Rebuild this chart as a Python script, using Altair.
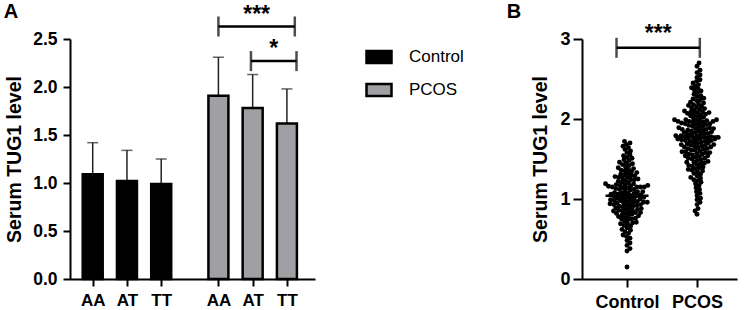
import json

import altair as alt
import numpy as np
import pandas as pd

FONT = "Liberation Sans"
PCOS_GREY = "#a0a0a4"

# ---------------- Panel A: serum TUG1 by genotype (mean + SD) ----------------
groups_a = ["Control", "PCOS"]
genotypes = ["AA", "AT", "TT"]
means_control = [1.09, 1.02, 0.99]
upper_control = [1.42, 1.34, 1.25]
means_pcos = [1.91, 1.78, 1.62]
upper_pcos = [2.31, 2.13, 1.98]

GROUP_GAP = 3.67  # slot distance between the first bars of the two groups

rows = []
for gi, (g, m_list, u_list) in enumerate(
    [("Control", means_control, upper_control), ("PCOS", means_pcos, upper_pcos)]
):
    for j, geno in enumerate(genotypes):
        rows.append({"group": g, "genotype": geno, "slot": gi * GROUP_GAP + j,
                     "mean": m_list[j], "upper": u_list[j]})
bars_df = pd.DataFrame(rows)

# significance brackets between PCOS genotypes
bracket_from = [0, 0.95]       # AA, AT (slot within PCOS group)
bracket_to = [2.23, 2.28]      # TT end (bracket reaches the bar's right side)
bracket_level = [2.63, 2.27]
bracket_text = ["***", "*"]
brackets_df = pd.DataFrame({
    "x1": [GROUP_GAP + v for v in bracket_from],
    "x2": [GROUP_GAP + v for v in bracket_to],
    "y": bracket_level,
    "label": bracket_text,
})

x_a = alt.Scale(domain=[-0.663, 6.49], nice=False, zero=False, padding=0)
y_a = alt.Scale(domain=[0, 2.5], nice=False)

label_expr_a = (
    f"datum.value < {GROUP_GAP - 0.5} ? {json.dumps(genotypes)}[round(datum.value)]"
    f" : {json.dumps(genotypes)}[round(datum.value - {GROUP_GAP})]"
)

xa_axis = alt.Axis(values=list(bars_df["slot"]), labelExpr=label_expr_a, title=None,
                   labelFontSize=17, labelFontWeight="bold", tickSize=7,
                   labelPadding=6, labelFlush=False)
ya_axis = alt.Axis(values=[0, 0.5, 1.0, 1.5, 2.0, 2.5], format=".1f",
                   title="Serum TUG1 level", titleFontSize=19.5, titleFontWeight="bold",
                   labelFontSize=17.5, labelFontWeight="bold", tickSize=7,
                   labelPadding=6, titleX=-56, titleBaseline="middle")

base_a = alt.Chart(bars_df)

err_rule = base_a.mark_rule(strokeWidth=1.5, color="#222222").encode(
    x=alt.X("slot:Q", scale=x_a, axis=xa_axis),
    y=alt.Y("mean:Q", scale=y_a, axis=ya_axis),
    y2="upper:Q",
)
err_cap = base_a.mark_tick(orient="horizontal", size=11, thickness=1.5,
                           color="#222222").encode(
    x=alt.X("slot:Q", scale=x_a), y=alt.Y("upper:Q", scale=y_a))

bars = base_a.mark_bar(size=20, stroke="black", strokeWidth=2.5).encode(
    x=alt.X("slot:Q", scale=x_a),
    y=alt.Y("mean:Q", scale=y_a),
    fill=alt.Fill(
        "group:N",
        scale=alt.Scale(domain=groups_a, range=["#000000", PCOS_GREY]),
        legend=alt.Legend(
            orient="none", legendX=295, legendY=4, title=None,
            symbolType="M-1,-0.48H1V0.48H-1Z", symbolSize=625,
            symbolStrokeColor="black", symbolStrokeWidth=2.5, symbolOpacity=1,
            labelFont=FONT, labelFontSize=17, labelColor="black",
            labelOffset=16, rowPadding=8,
        ),
    ),
)

br_a = alt.Chart(brackets_df)
br_line = br_a.mark_rule(strokeWidth=2.5, color="black").encode(
    x=alt.X("x1:Q", scale=x_a), x2="x2:Q", y=alt.Y("y:Q", scale=y_a))
br_left = br_a.mark_tick(orient="vertical", size=20, thickness=2.5, color="black").encode(
    x=alt.X("x1:Q", scale=x_a), y=alt.Y("y:Q", scale=y_a))
br_right = br_a.mark_tick(orient="vertical", size=20, thickness=2.5, color="black").encode(
    x=alt.X("x2:Q", scale=x_a), y=alt.Y("y:Q", scale=y_a))
br_text = br_a.transform_calculate(xm="(datum.x1 + datum.x2) / 2").mark_text(
    font=FONT, fontSize=23, fontWeight="bold", baseline="alphabetic", dy=-5, color="black"
).encode(x=alt.X("xm:Q", scale=x_a), y=alt.Y("y:Q", scale=y_a), text="label:N")

tag_a = alt.Chart(pd.DataFrame({"t": ["A"]})).mark_text(
    font=FONT, fontSize=20, fontWeight="bold", align="center", baseline="middle",
    color="black").encode(x=alt.value(-59), y=alt.value(-27), text="t:N")

# transparent guide fixing the figure's top-left corner
frame_a = alt.Chart(pd.DataFrame({"t": [0]})).mark_rule(
    strokeWidth=1, opacity=0).encode(
    x=alt.value(-69.5), y=alt.value(-38.5), y2=alt.value(270))

panel_a = alt.layer(frame_a, err_rule, err_cap, bars, br_line, br_left, br_right,
                    br_text, tag_a).properties(width=245, height=240)

# ---------------- Panel B: individual serum TUG1 levels ----------------
groups_b = ["Control", "PCOS"]
control_values = [
    0.15,
    0.35, 0.38,
    0.42, 0.45, 0.48,
    0.51, 0.53, 0.55, 0.57, 0.59,
    0.61, 0.62, 0.64, 0.66, 0.67, 0.69, 0.69,
    0.70, 0.71, 0.72, 0.74, 0.75, 0.75, 0.76, 0.77, 0.78, 0.79, 0.79,
    0.80, 0.81, 0.82, 0.82, 0.83, 0.83, 0.84, 0.85, 0.85, 0.86, 0.86, 0.87, 0.87,
    0.88, 0.89, 0.89,
    0.90, 0.91, 0.91, 0.92, 0.92, 0.93, 0.93, 0.94, 0.94, 0.95, 0.95, 0.96, 0.96,
    0.96, 0.97, 0.97, 0.98, 0.98, 0.99, 0.99,
    1.00, 1.00, 1.01, 1.01, 1.02, 1.02, 1.03, 1.03, 1.04, 1.04, 1.05, 1.05, 1.06,
    1.06, 1.07, 1.07, 1.08, 1.08, 1.09, 1.09,
    1.10, 1.11, 1.12, 1.12, 1.13, 1.14, 1.14, 1.15, 1.15, 1.15, 1.15, 1.16, 1.16,
    1.17, 1.17, 1.18, 1.18, 1.19, 1.19,
    1.20, 1.21, 1.22, 1.23, 1.24, 1.24, 1.25, 1.26, 1.27, 1.27, 1.28, 1.29, 1.29,
    1.30, 1.31, 1.32, 1.33, 1.34, 1.35, 1.36, 1.37, 1.38, 1.39,
    1.40, 1.42, 1.43, 1.44, 1.45, 1.46, 1.48, 1.49,
    1.51, 1.52, 1.54, 1.55, 1.58,
    1.60, 1.62, 1.64, 1.66, 1.68,
    1.70, 1.72,
]
pcos_values = [
    0.81, 0.85, 0.88,
    0.93, 0.96, 0.99,
    1.01, 1.04, 1.07, 1.09,
    1.12, 1.14, 1.17, 1.19,
    1.21, 1.23, 1.24, 1.26, 1.27, 1.29,
    1.31, 1.32, 1.34, 1.35, 1.36, 1.37, 1.38, 1.39,
    1.40, 1.41, 1.42, 1.43, 1.44, 1.45, 1.46, 1.46, 1.47, 1.48, 1.49,
    1.50, 1.51, 1.51, 1.52, 1.53, 1.54, 1.54, 1.55, 1.56, 1.56, 1.57, 1.58, 1.58,
    1.59, 1.59,
    1.60, 1.61, 1.61, 1.62, 1.63, 1.63, 1.64, 1.65, 1.65, 1.66, 1.66, 1.67, 1.67,
    1.68, 1.68, 1.69, 1.69,
    1.70, 1.71, 1.71, 1.72, 1.72, 1.73, 1.73, 1.74, 1.74, 1.75, 1.75, 1.75, 1.76,
    1.76, 1.76, 1.77, 1.77, 1.78, 1.78, 1.79, 1.79, 1.79,
    1.80, 1.81, 1.81, 1.82, 1.82, 1.83, 1.83, 1.84, 1.85, 1.85, 1.86, 1.86, 1.87,
    1.87, 1.88, 1.88, 1.89, 1.89,
    1.90, 1.91, 1.91, 1.92, 1.93, 1.93, 1.94, 1.94, 1.95, 1.95, 1.96, 1.96, 1.97,
    1.97, 1.97, 1.98, 1.98, 1.99, 1.99, 1.99,
    2.00, 2.01, 2.02, 2.03, 2.04, 2.05, 2.06, 2.06, 2.07, 2.08, 2.08, 2.09, 2.09,
    2.10, 2.11, 2.12, 2.13, 2.14, 2.15, 2.16, 2.17, 2.18, 2.19,
    2.20, 2.21, 2.23, 2.24, 2.25, 2.26, 2.28, 2.29,
    2.31, 2.33, 2.35, 2.36, 2.38, 2.39,
    2.41, 2.43, 2.45, 2.47, 2.49,
    2.52, 2.55, 2.58,
    2.61, 2.66, 2.70,
]

PX_PER_Y_B = 80.0   # 240 px for 0..3
PX_PER_X_B = 70.0   # distance between the two group centres
DOT_GAP = 3.7       # minimum centre distance between dots (px)


def swarm_offsets(values, px_per_unit, min_dist, step=0.25):
    """Horizontal beeswarm offsets (px) so that dots do not pile up."""
    ys = np.asarray(values, dtype=float) * px_per_unit
    xs = np.zeros_like(ys)
    placed = []
    for n, i in enumerate(np.argsort(ys, kind="stable")):
        near = [j for j in placed if abs(ys[j] - ys[i]) < min_dist]
        sign = 1 if n % 2 == 0 else -1
        k = 0
        while True:
            cands = [0.0] if k == 0 else [sign * k * step, -sign * k * step]
            hit = None
            for c in cands:
                if all((c - xs[j]) ** 2 + (ys[i] - ys[j]) ** 2 >= min_dist ** 2 for j in near):
                    hit = c
                    break
            if hit is not None:
                xs[i] = hit
                break
            k += 1
        placed.append(i)
    return xs


swarm_rows = []
for gi, (g, vals) in enumerate(zip(groups_b, [control_values, pcos_values])):
    offs = swarm_offsets(vals, PX_PER_Y_B, DOT_GAP)
    for v, o in zip(vals, offs):
        swarm_rows.append({"group": g, "grp": gi, "pos": float(gi + o / PX_PER_X_B),
                           "value": v})
swarm_df = pd.DataFrame(swarm_rows)

x_b = alt.Scale(domain=[-0.643, 1.571], nice=False, zero=False, padding=0)
y_b = alt.Scale(domain=[0, 3], nice=False)

xb_axis = alt.Axis(values=[0, 1], labelExpr=f"{json.dumps(groups_b)}[datum.value]",
                   title=None, labelFontSize=18, labelFontWeight="bold", tickSize=8,
                   labelPadding=6, labelFlush=False)
yb_axis = alt.Axis(values=[0, 1, 2, 3], format="d", title="Serum TUG1 level",
                   titleFontSize=19.5, titleFontWeight="bold", labelFontSize=18,
                   labelFontWeight="bold", tickSize=9, labelPadding=3, titleX=-42,
                   titleBaseline="middle")

dots = alt.Chart(swarm_df).mark_circle(size=24, color="black", opacity=1).encode(
    x=alt.X("pos:Q", scale=x_b, axis=xb_axis),
    y=alt.Y("value:Q", scale=y_b, axis=yb_axis),
)
median_line = alt.Chart(swarm_df).mark_tick(orient="horizontal", size=43, thickness=2.5,
                                             color="black").encode(
    x=alt.X("grp:Q", scale=x_b),
    y=alt.Y("median(value):Q", scale=y_b),
)

brackets_b = pd.DataFrame({"x1": [-0.15], "x2": [1.04], "y": [2.89], "label": ["***"]})
bb = alt.Chart(brackets_b)
bb_line = bb.mark_rule(strokeWidth=2.5, color="black").encode(
    x=alt.X("x1:Q", scale=x_b), x2="x2:Q", y=alt.Y("y:Q", scale=y_b))
bb_left = bb.mark_tick(orient="vertical", size=20, thickness=2.5, color="black").encode(
    x=alt.X("x1:Q", scale=x_b), y=alt.Y("y:Q", scale=y_b))
bb_right = bb.mark_tick(orient="vertical", size=20, thickness=2.5, color="black").encode(
    x=alt.X("x2:Q", scale=x_b), y=alt.Y("y:Q", scale=y_b))
bb_text = bb.transform_calculate(xm="(datum.x1 + datum.x2) / 2").mark_text(
    font=FONT, fontSize=23, fontWeight="bold", baseline="alphabetic", dy=-7, color="black"
).encode(x=alt.X("xm:Q", scale=x_b), y=alt.Y("y:Q", scale=y_b), text="label:N")

tag_b = alt.Chart(pd.DataFrame({"t": ["B"]})).mark_text(
    font=FONT, fontSize=20, fontWeight="bold", align="center", baseline="middle",
    color="black").encode(x=alt.value(-68), y=alt.value(-27), text="t:N")

# transparent guide fixing the figure's right edge
frame_b = alt.Chart(pd.DataFrame({"t": [0]})).mark_rule(
    strokeWidth=1, opacity=0).encode(
    x=alt.value(161.5), y=alt.value(-38.5), y2=alt.value(270))

panel_b = alt.layer(frame_b, dots, median_line, bb_line, bb_left, bb_right, bb_text,
                    tag_b).properties(width=155, height=240)

chart = alt.hconcat(panel_a, panel_b, spacing=267, bounds="flush").properties(
    padding=0,
    autosize=alt.AutoSizeParams(type="pad"),
    background="white",
).configure_view(strokeWidth=0).configure_axis(
    domainColor="black", domainWidth=2, tickColor="black", tickWidth=2,
    labelColor="black", titleColor="black", labelFont=FONT, titleFont=FONT, grid=False,
)

chart.save("out.html", embed_options={"renderer": "svg", "actions": False})
